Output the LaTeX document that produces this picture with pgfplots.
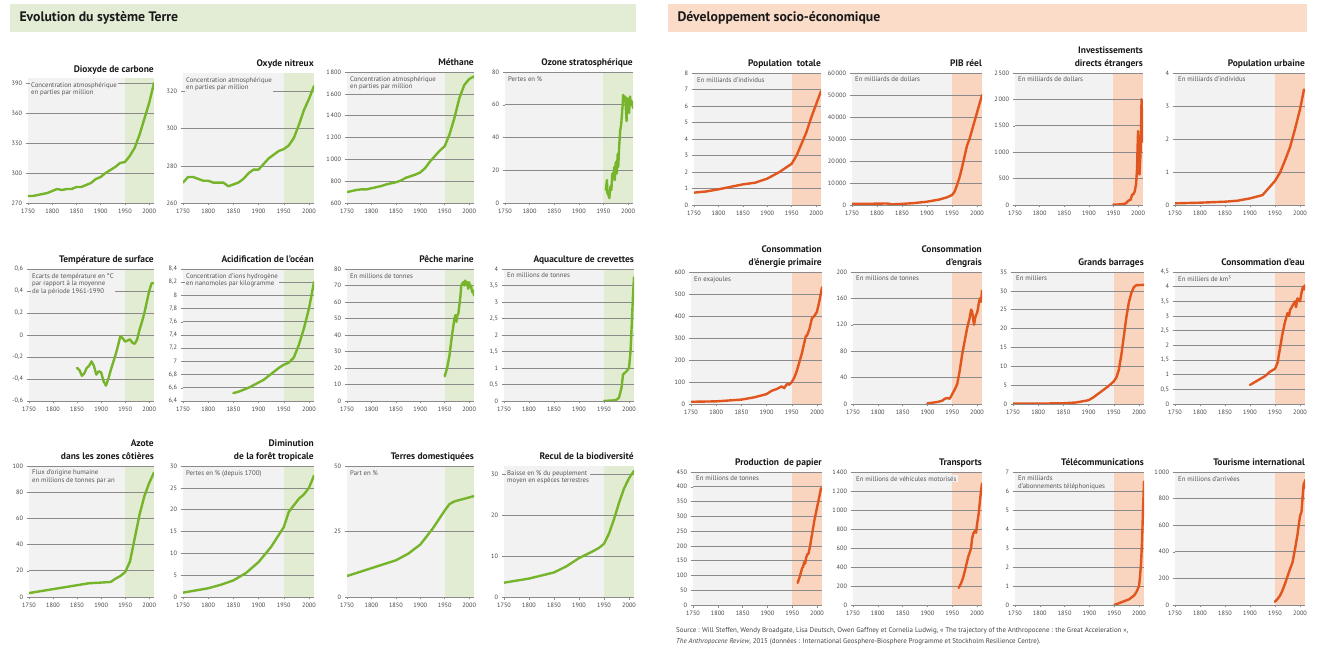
\documentclass[border=0pt]{standalone}
\usepackage{fontspec}
\setmainfont{PT Sans}
\usepackage{pgfplots}
\pgfplotsset{compat=1.18}
\usetikzlibrary{calc}

\definecolor{bggray}{HTML}{F2F2F2}
\definecolor{gridcol}{HTML}{8A8A8A}
\definecolor{labelcol}{HTML}{444444}
\definecolor{annotcol}{HTML}{555555}
\definecolor{titlecol}{HTML}{1A1A1A}
\definecolor{greenline}{HTML}{76B52B}
\definecolor{greenshade}{HTML}{E2ECD3}
\definecolor{orangeline}{HTML}{E0561E}
\definecolor{orangeshade}{HTML}{F9D4BE}
\definecolor{greenhead}{HTML}{E3EDD5}
\definecolor{orangehead}{HTML}{FBDCC9}

\pgfplotsset{
  panel/.style={
    scale only axis, anchor=south west,
    xmin=1750, xmax=2010,
    xtick={1750,1800,1850,1900,1950,2000},
    axis x line*=bottom, axis y line*=left,
    y axis line style={draw=none},
    x axis line style={draw=gridcol, line width=0.6bp},
    tick align=outside,
    major tick length=2.5bp,
    xtick style={draw=gridcol, line width=0.5bp},
    ytick style={draw=gridcol, line width=0.5bp},
    ymajorgrids,
    major grid style={draw=gridcol, line width=0.6bp},
    tick label style={font=\fontsize{6.3}{7}\selectfont, text=labelcol},
    x tick label style={/pgf/number format/1000 sep={}},
    y tick label style={/pgf/number format/use comma, /pgf/number format/1000 sep={\,}},
    /pgf/number format/assume math mode=true,
    scaled y ticks=false,
    no markers,
    every axis plot post/.append style={line width=2.4bp, line join=round, line cap=round},
    title style={at={(1,1)}, anchor=south east, align=right, inner sep=0pt,
      yshift=-3bp, font=\bfseries\fontsize{9.5}{12.5}\selectfont, text=titlecol},
  },
  % fond gris, zone ombrée à partir de 1950 (200/260 de la largeur)
  terre/.style={panel,
    cycle list={{greenline}},
    axis background/.style={fill=bggray, path picture={
      \fill[greenshade] ($(path picture bounding box.south west)!0.76923!(path picture bounding box.south east)$)
        rectangle (path picture bounding box.north east);}}},
  socio/.style={panel,
    cycle list={{orangeline}},
    axis background/.style={fill=bggray, path picture={
      \fill[orangeshade] ($(path picture bounding box.south west)!0.76923!(path picture bounding box.south east)$)
        rectangle (path picture bounding box.north east);}}},
}

\newcommand{\annot}[1]{%
  \node[anchor=north west, fill=bggray, inner sep=1bp, align=left, xshift=2bp, yshift=-3bp,
    font=\fontsize{6.8}{7.6}\selectfont, text=annotcol] at (rel axis cs:0,1) {#1};
}

\begin{document}
\begin{tikzpicture}
\fill[white] (0,0) rectangle (1319bp,651bp);

% bandeaux
\fill[greenhead] (10bp,619bp) rectangle (636bp,647bp);
\node[anchor=west, font=\bfseries\fontsize{13.8}{16}\selectfont, text=titlecol] at (16bp,633bp) {Evolution du système Terre};
\fill[orangehead] (668bp,619bp) rectangle (1307bp,647bp);
\node[anchor=west, font=\bfseries\fontsize{13.8}{16}\selectfont, text=titlecol] at (674bp,633bp) {Développement socio-économique};

%%% ---------- Evolution du système Terre ----------
% rangée 1
\begin{axis}[terre, at={(28bp,448bp)}, width=126bp, height=125bp,
  ymin=270, ymax=395, ytick={270,300,330,360,390},
  title={Dioxyde de carbone\strut}, title style={yshift=-1bp}]
\addplot coordinates {(1750,277)(1760,277)(1770,278)(1780,279)(1790,280)(1800,282)(1810,284)(1820,283)(1830,284)(1840,284)(1850,286)(1860,286)(1870,288)(1880,290)(1890,294)(1900,296)(1910,300)(1920,303)(1930,306)(1940,310)(1950,311)(1960,317)(1970,325)(1980,338)(1990,354)(2000,370)(2010,390)};
\annot{Concentration atmosphérique\\en parties par million}
\end{axis}

\begin{axis}[terre, at={(183bp,448bp)}, width=131bp, height=130bp,
  ymin=260, ymax=330, ytick={260,280,300,320},
  title={Oxyde nitreux\strut}]
\addplot coordinates {(1750,271)(1760,274)(1770,274)(1780,273)(1790,272)(1800,272)(1810,271)(1820,271)(1830,271)(1840,269)(1850,270)(1860,271)(1870,273)(1880,276)(1890,278)(1900,278)(1910,281)(1920,284)(1930,286)(1940,288)(1950,289)(1960,291)(1970,295)(1980,302)(1990,310)(2000,316)(2010,323)};
\annot{Concentration atmosphérique\\en parties par million}
\end{axis}

\begin{axis}[terre, at={(347bp,448bp)}, width=127bp, height=131bp,
  ymin=600, ymax=1800, ytick={600,800,...,1800},
  title={Méthane\strut}]
\addplot coordinates {(1750,700)(1760,710)(1770,720)(1780,725)(1790,725)(1800,735)(1810,745)(1820,755)(1830,770)(1840,780)(1850,790)(1860,805)(1870,830)(1880,845)(1890,860)(1900,880)(1910,920)(1920,980)(1930,1030)(1940,1080)(1950,1120)(1960,1230)(1970,1380)(1980,1560)(1990,1680)(2000,1735)(2010,1760)};
\annot{Concentration atmosphérique\\en parties par million}
\end{axis}

\begin{axis}[terre, at={(505bp,448bp)}, width=128bp, height=131bp,
  ymin=0, ymax=80, ytick={0,20,40,60,80},
  title={Ozone stratosphérique\strut}]
\addplot coordinates {(1955,8)(1957,14)(1958,6)(1960,5)(1962,3)(1964,10)(1966,8)(1968,18)(1970,15)(1972,22)(1973,14)(1975,25)(1977,18)(1979,30)(1980,22)(1982,35)(1984,44)(1986,48)(1988,56)(1989,60)(1990,66)(1992,64)(1994,65)(1995,60)(1997,50)(1998,64)(2000,62)(2002,55)(2004,65)(2006,60)(2008,62)(2010,58)};
\annot{Pertes en \%}
\end{axis}

% rangée 2
\begin{axis}[terre, at={(29bp,250bp)}, width=125bp, height=132bp,
  ymin=-0.6, ymax=0.6, ytick={-0.6,-0.4,-0.2,0,0.2,0.4,0.6},
  title={Température de surface\strut}]
\addplot coordinates {(1850,-0.30)(1855,-0.32)(1860,-0.37)(1865,-0.35)(1870,-0.30)(1875,-0.28)(1880,-0.24)(1885,-0.28)(1890,-0.36)(1895,-0.33)(1900,-0.34)(1905,-0.42)(1910,-0.46)(1915,-0.40)(1920,-0.32)(1925,-0.25)(1930,-0.18)(1935,-0.10)(1940,-0.01)(1945,-0.03)(1950,-0.06)(1955,-0.05)(1960,-0.04)(1965,-0.07)(1970,-0.08)(1975,-0.04)(1980,0.05)(1985,0.12)(1990,0.20)(1995,0.30)(2000,0.40)(2005,0.47)(2010,0.47)};
\annot{Ecarts de température en °C\\par rapport à la moyenne\\de la période 1961-1990}
\end{axis}

\begin{axis}[terre, at={(183bp,250bp)}, width=131bp, height=132bp,
  ymin=6.4, ymax=8.4, ytick={6.4,6.6,6.8,7,7.2,7.4,7.6,7.8,8,8.2,8.4},
  title={Acidification de l’océan\strut}]
\addplot coordinates {(1850,6.52)(1860,6.54)(1870,6.57)(1880,6.60)(1890,6.64)(1900,6.68)(1910,6.72)(1920,6.78)(1930,6.84)(1940,6.90)(1950,6.95)(1960,6.98)(1970,7.06)(1980,7.25)(1990,7.50)(2000,7.80)(2010,8.20)};
\annot{Concentration d’ions hydrogène\\en nanomoles par kilogramme}
\end{axis}

\begin{axis}[terre, at={(347bp,250bp)}, width=127bp, height=132bp,
  ymin=0, ymax=80, ytick={0,10,...,80},
  title={Pêche marine\strut}]
\addplot coordinates {(1950,15)(1955,20)(1960,28)(1965,40)(1970,50)(1972,52)(1974,48)(1976,52)(1978,53)(1980,58)(1982,63)(1984,70)(1986,71)(1988,72)(1990,70)(1992,73)(1994,71)(1996,72)(1998,68)(2000,72)(2002,69)(2004,70)(2006,66)(2008,67)(2010,64)};
\annot{En millions de tonnes}
\end{axis}

\begin{axis}[terre, at={(504bp,250bp)}, width=130bp, height=132bp,
  ymin=0, ymax=4, ytick={0,0.5,1,1.5,2,2.5,3,3.5,4},
  title={Aquaculture de crevettes\strut}]
\addplot coordinates {(1950,0)(1960,0.01)(1970,0.02)(1975,0.04)(1980,0.1)(1985,0.4)(1988,0.8)(1995,0.9)(2000,1.0)(2003,1.5)(2006,2.5)(2008,3.2)(2010,3.75)};
\annot{En millions de tonnes}
\end{axis}

% rangée 3
\begin{axis}[terre, at={(29bp,54bp)}, width=125bp, height=131bp,
  ymin=0, ymax=100, ytick={0,20,...,100},
  title={Azote\\dans les zones côtières\strut}]
\addplot coordinates {(1750,3)(1775,4.5)(1800,6)(1825,7.5)(1850,9)(1875,10.5)(1900,11)(1920,11.5)(1930,14)(1940,16)(1950,19)(1960,27)(1970,45)(1980,63)(1990,77)(2000,87)(2010,95)};
\annot{Flux d’origine humaine\\en millions de tonnes par an}
\end{axis}

\begin{axis}[terre, at={(183bp,54bp)}, width=131bp, height=131bp,
  ymin=0, ymax=30, ytick={0,5,...,30},
  title={Diminution\\de la forêt tropicale\strut}]
\addplot coordinates {(1750,1)(1775,1.5)(1800,2)(1825,2.8)(1850,3.8)(1875,5.5)(1900,8)(1925,11.5)(1950,16)(1960,19.5)(1970,21)(1980,22.5)(1990,23.5)(2000,25)(2010,27.8)};
\annot{Pertes en \% (depuis 1700)}
\end{axis}

\begin{axis}[terre, at={(347bp,54bp)}, width=127bp, height=131bp,
  ymin=0, ymax=50, ytick={0,25,50},
  title={Terres domestiquées\strut}]
\addplot coordinates {(1750,8)(1775,9.5)(1800,11)(1825,12.5)(1850,14)(1875,16.5)(1900,20)(1925,26)(1950,33)(1960,35.5)(1970,36.5)(1980,37)(1990,37.5)(2000,38)(2010,38.5)};
\annot{Part en \%}
\end{axis}

\begin{axis}[terre, at={(504bp,54bp)}, width=130bp, height=131bp,
  ymin=0, ymax=32, ytick={0,10,20,30},
  title={Recul de la biodiversité\strut}]
\addplot coordinates {(1750,3.5)(1800,4.5)(1850,6)(1875,7.5)(1900,9.5)(1925,11)(1940,12)(1950,13)(1960,15.5)(1970,19)(1980,23)(1990,26.5)(2000,29)(2010,30.8)};
\annot{Baisse en \% du peuplement\\moyen en espèces terrestres}
\end{axis}

%%% ---------- Développement socio-économique ----------
% rangée 1
\begin{axis}[socio, at={(694bp,446bp)}, width=127bp, height=132bp,
  ymin=0, ymax=8, ytick={0,1,...,8},
  title={Population~~totale\strut}]
\addplot coordinates {(1750,0.75)(1775,0.82)(1800,0.95)(1825,1.1)(1850,1.25)(1875,1.35)(1900,1.6)(1925,2.0)(1950,2.5)(1960,3.0)(1970,3.7)(1980,4.4)(1990,5.3)(2000,6.1)(2010,6.9)};
\annot{En milliards d’individus}
\end{axis}

\begin{axis}[socio, at={(852bp,446bp)}, width=130bp, height=132bp,
  ymin=0, ymax=60000, ytick={0,10000,...,60000},
  title={PIB réel\strut}]
\addplot coordinates {(1750,500)(1800,600)(1820,700)(1830,300)(1850,500)(1875,900)(1900,1500)(1925,2500)(1940,3500)(1950,4500)(1955,6000)(1960,9000)(1965,12500)(1970,17000)(1975,22000)(1980,27000)(1985,30000)(1990,34000)(1995,38000)(2000,42000)(2005,46000)(2010,50000)};
\annot{En milliards de dollars}
\end{axis}

\begin{axis}[socio, at={(1015bp,446bp)}, width=128bp, height=132bp,
  ymin=0, ymax=2500, ytick={0,500,...,2500},
  title={Investissements\\directs étrangers\strut}]
\addplot coordinates {(1950,10)(1960,10)(1970,20)(1975,30)(1980,80)(1985,100)(1988,200)(1990,200)(1993,250)(1996,400)(1998,700)(1999,1100)(2000,1400)(2001,800)(2002,600)(2003,580)(2004,800)(2005,1000)(2006,1400)(2007,2000)(2008,1700)(2009,1200)(2010,1300)};
\annot{En milliards de dollars}
\end{axis}

\begin{axis}[socio, at={(1175bp,446bp)}, width=130bp, height=132bp,
  ymin=0, ymax=4, ytick={0,1,...,4},
  title={Population urbaine\strut}]
\addplot coordinates {(1750,0.05)(1800,0.07)(1850,0.1)(1875,0.13)(1900,0.2)(1925,0.3)(1950,0.73)(1960,0.98)(1970,1.35)(1980,1.75)(1990,2.3)(2000,2.9)(2008,3.5)};
\annot{En milliards d’individus}
\end{axis}

% rangée 2
\begin{axis}[socio, at={(691bp,247bp)}, width=131bp, height=132bp,
  ymin=0, ymax=600, ytick={0,100,...,600},
  title={Consommation\\d’énergie primaire\strut}]
\addplot coordinates {(1750,10)(1800,12)(1850,20)(1875,30)(1900,45)(1910,60)(1920,68)(1930,80)(1935,72)(1940,90)(1945,88)(1950,100)(1955,120)(1960,150)(1965,190)(1970,230)(1975,280)(1978,310)(1980,310)(1985,340)(1990,390)(1995,400)(2000,420)(2005,470)(2010,530)};
\annot{En exajoules}
\end{axis}

\begin{axis}[socio, at={(853bp,247bp)}, width=129bp, height=132bp,
  ymin=0, ymax=200, ytick={0,40,...,200},
  title={Consommation\\d’engrais\strut}]
\addplot coordinates {(1900,1)(1910,2)(1920,3)(1930,5)(1935,8)(1940,9)(1945,8)(1950,15)(1955,22)(1960,30)(1965,50)(1970,75)(1975,95)(1980,115)(1985,130)(1988,143)(1990,140)(1992,130)(1994,120)(1996,130)(1998,135)(2000,138)(2002,145)(2004,155)(2006,160)(2008,155)(2010,172)};
\annot{En millions de tonnes}
\end{axis}

\begin{axis}[socio, at={(1013bp,247bp)}, width=131bp, height=132bp,
  ymin=0, ymax=35, ytick={0,5,...,35},
  title={Grands barrages\strut}]
\addplot coordinates {(1750,0.1)(1800,0.1)(1850,0.2)(1875,0.4)(1900,1)(1910,1.8)(1920,2.8)(1930,3.8)(1940,4.8)(1950,6)(1955,7)(1960,9)(1965,13)(1970,18)(1975,23)(1980,27)(1985,29.5)(1990,31)(1995,31.5)(2010,31.6)};
\annot{En milliers}
\end{axis}

\begin{axis}[socio, at={(1175bp,247bp)}, width=130bp, height=132bp,
  ymin=0, ymax=4.5, ytick={0,0.5,1,1.5,2,2.5,3,3.5,4,4.5},
  title={Consommation d’eau\strut}]
\addplot coordinates {(1900,0.65)(1910,0.75)(1920,0.85)(1930,0.95)(1940,1.1)(1950,1.2)(1955,1.4)(1960,1.9)(1965,2.4)(1970,2.8)(1975,3.1)(1978,3.0)(1980,3.2)(1985,3.35)(1990,3.5)(1992,3.3)(1995,3.6)(2000,3.5)(2003,3.8)(2006,4.0)(2008,3.9)(2010,4.05)};
\annot{En milliers de km³}
\end{axis}

% rangée 3
\begin{axis}[socio, at={(693bp,46bp)}, width=129bp, height=133bp,
  ymin=0, ymax=450, ytick={0,50,...,450},
  title={Production~~de papier\strut}]
\addplot coordinates {(1961,75)(1965,95)(1970,125)(1972,130)(1974,145)(1976,140)(1978,160)(1980,170)(1983,175)(1986,200)(1990,240)(1995,290)(2000,330)(2005,370)(2008,395)(2010,390)};
\annot{En millions de tonnes}
\end{axis}

\begin{axis}[socio, at={(853bp,46bp)}, width=129bp, height=133bp,
  ymin=0, ymax=1400, ytick={0,200,...,1400},
  title={Transports\strut}]
\addplot coordinates {(1963,180)(1968,230)(1972,290)(1976,370)(1980,460)(1983,520)(1985,550)(1988,600)(1990,700)(1993,760)(1996,780)(1998,760)(2000,850)(2003,950)(2006,1100)(2008,1200)(2010,1280)};
\annot{En millions de véhicules motorisés}
\end{axis}

\begin{axis}[socio, at={(1015bp,46bp)}, width=129bp, height=133bp,
  ymin=0, ymax=7, ytick={0,1,...,7},
  title={Télécommunications\strut}]
\addplot coordinates {(1950,0)(1960,0.1)(1970,0.2)(1980,0.3)(1990,0.5)(1995,0.7)(2000,1.0)(2002,1.5)(2004,2.2)(2006,3.3)(2008,5.0)(2010,6.5)};
\annot{En milliards\\d’abonnements téléphoniques}
\end{axis}

\begin{axis}[socio, at={(1175bp,46bp)}, width=130bp, height=133bp,
  ymin=0, ymax=1000, ytick={0,200,...,1000},
  title={Tourisme international\strut}]
\addplot coordinates {(1950,25)(1955,45)(1960,70)(1965,110)(1970,160)(1975,215)(1980,270)(1985,320)(1990,420)(1995,530)(2000,670)(2003,700)(2005,800)(2007,900)(2008,920)(2009,880)(2010,940)};
\annot{En millions d’arrivées}
\end{axis}

% source
\node[anchor=north west, align=left, inner sep=0pt, font=\fontsize{7}{11}\selectfont, text=labelcol] at (676bp,24bp)
  {Source : Will Steffen, Wendy Broadgate, Lisa Deutsch, Owen Gaffney et Cornelia Ludwig, « The trajectory of the Anthropocene : the Great Acceleration »,\\
   \textit{The Anthropocene Review}, 2015 (données : International Geosphere-Biosphere Programme et Stockholm Resilience Centre).};
\end{tikzpicture}
\end{document}
